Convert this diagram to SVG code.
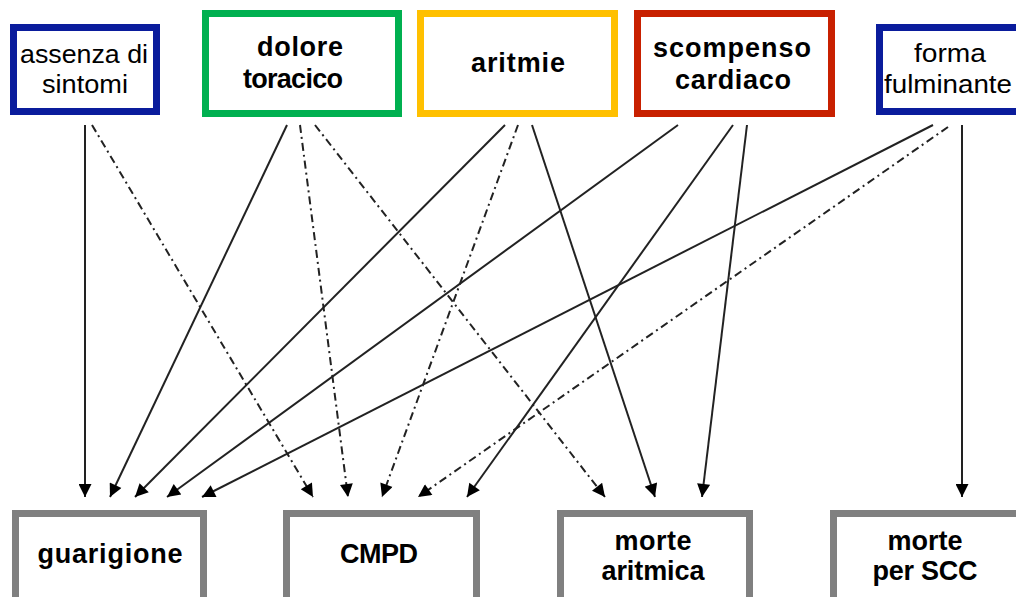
<svg xmlns="http://www.w3.org/2000/svg" width="1016" height="597" viewBox="0 0 1016 597">
<style>
.box{fill:#fff;stroke-width:7}
.blue{stroke:#0a1c9c}
.green{stroke:#00b050}
.yellow{stroke:#ffc000}
.red{stroke:#c82000}
.gray{stroke:#808080}
.b{font-family:"Liberation Sans",Arial,sans-serif;font-weight:bold;font-size:27px;fill:#000;text-anchor:middle}
.r{font-family:"Liberation Sans",Arial,sans-serif;font-size:25px;fill:#000;text-anchor:middle}
.c{stroke:#222;stroke-width:2;fill:none;marker-end:url(#ah)}
.dd{stroke-dasharray:8 4 2 4}
</style>
<defs>
<marker id="ah" viewBox="0 0 12 12" refX="12" refY="6" markerWidth="15" markerHeight="13" markerUnits="userSpaceOnUse" orient="auto">
<path d="M0,0 L12,6 L0,12 z" fill="#000"/>
</marker>
</defs>
<rect width="1016" height="597" fill="#fff"/>
<g id="connectors">
<line class="c" x1="85" y1="125" x2="85" y2="497"/>
<line class="c" x1="287" y1="125" x2="110" y2="497"/>
<line class="c" x1="505" y1="125" x2="135" y2="497"/>
<line class="c" x1="678" y1="125" x2="167" y2="497"/>
<line class="c" x1="933" y1="125" x2="202" y2="497"/>
<line class="c" x1="733" y1="125" x2="467" y2="497"/>
<line class="c" x1="532" y1="125" x2="655" y2="497"/>
<line class="c" x1="747" y1="125" x2="702" y2="497"/>
<line class="c" x1="962" y1="125" x2="962" y2="497"/>
<line class="c dd" x1="92" y1="125" x2="313" y2="497"/>
<line class="c dd" x1="300" y1="125" x2="348" y2="497"/>
<line class="c dd" x1="518" y1="125" x2="382" y2="497"/>
<line class="c dd" x1="948" y1="127" x2="418" y2="497"/>
<line class="c dd" x1="315" y1="125" x2="605" y2="497"/>
</g>
<g id="assenza">
<rect class="box blue" x="13.5" y="27.5" width="143" height="84"/>
<text class="r" x="84" y="63" textLength="128" lengthAdjust="spacingAndGlyphs">assenza di</text>
<text class="r" x="85" y="93" textLength="86" lengthAdjust="spacingAndGlyphs">sintomi</text>
</g>
<g id="dolore">
<rect class="box green" x="205.5" y="13.5" width="193" height="100"/>
<text class="b" x="300" y="56" textLength="86">dolore</text>
<text class="b" x="293" y="88" textLength="100">toracico</text>
</g>
<g id="aritmie">
<rect class="box yellow" x="420.5" y="13.5" width="194" height="100"/>
<text class="b" x="518" y="72" textLength="94">aritmie</text>
</g>
<g id="scompenso">
<rect class="box red" x="637.5" y="13.5" width="194" height="100"/>
<text class="b" x="732" y="57" textLength="158">scompenso</text>
<text class="b" x="733" y="89" textLength="116">cardiaco</text>
</g>
<g id="forma">
<rect class="box blue" x="879.5" y="27.5" width="160" height="84"/>
<text class="r" x="950" y="62" textLength="72" lengthAdjust="spacingAndGlyphs">forma</text>
<text class="r" x="948" y="93" textLength="128" lengthAdjust="spacingAndGlyphs">fulminante</text>
</g>
<g id="guarigione">
<rect class="box gray" x="15.5" y="513.5" width="188" height="100"/>
<text class="b" x="110" y="563" textLength="145">guarigione</text>
</g>
<g id="cmpd">
<rect class="box gray" x="286.5" y="513.5" width="190" height="100"/>
<text class="b" x="379" y="563" textLength="78">CMPD</text>
</g>
<g id="morte-aritmica">
<rect class="box gray" x="560.5" y="513.5" width="189" height="100"/>
<text class="b" x="653" y="550" textLength="77">morte</text>
<text class="b" x="653" y="580" textLength="103">aritmica</text>
</g>
<g id="morte-scc">
<rect class="box gray" x="833.5" y="513.5" width="200" height="100"/>
<text class="b" x="925" y="550" textLength="75">morte</text>
<text class="b" x="925" y="580" textLength="105">per SCC</text>
</g>
</svg>
